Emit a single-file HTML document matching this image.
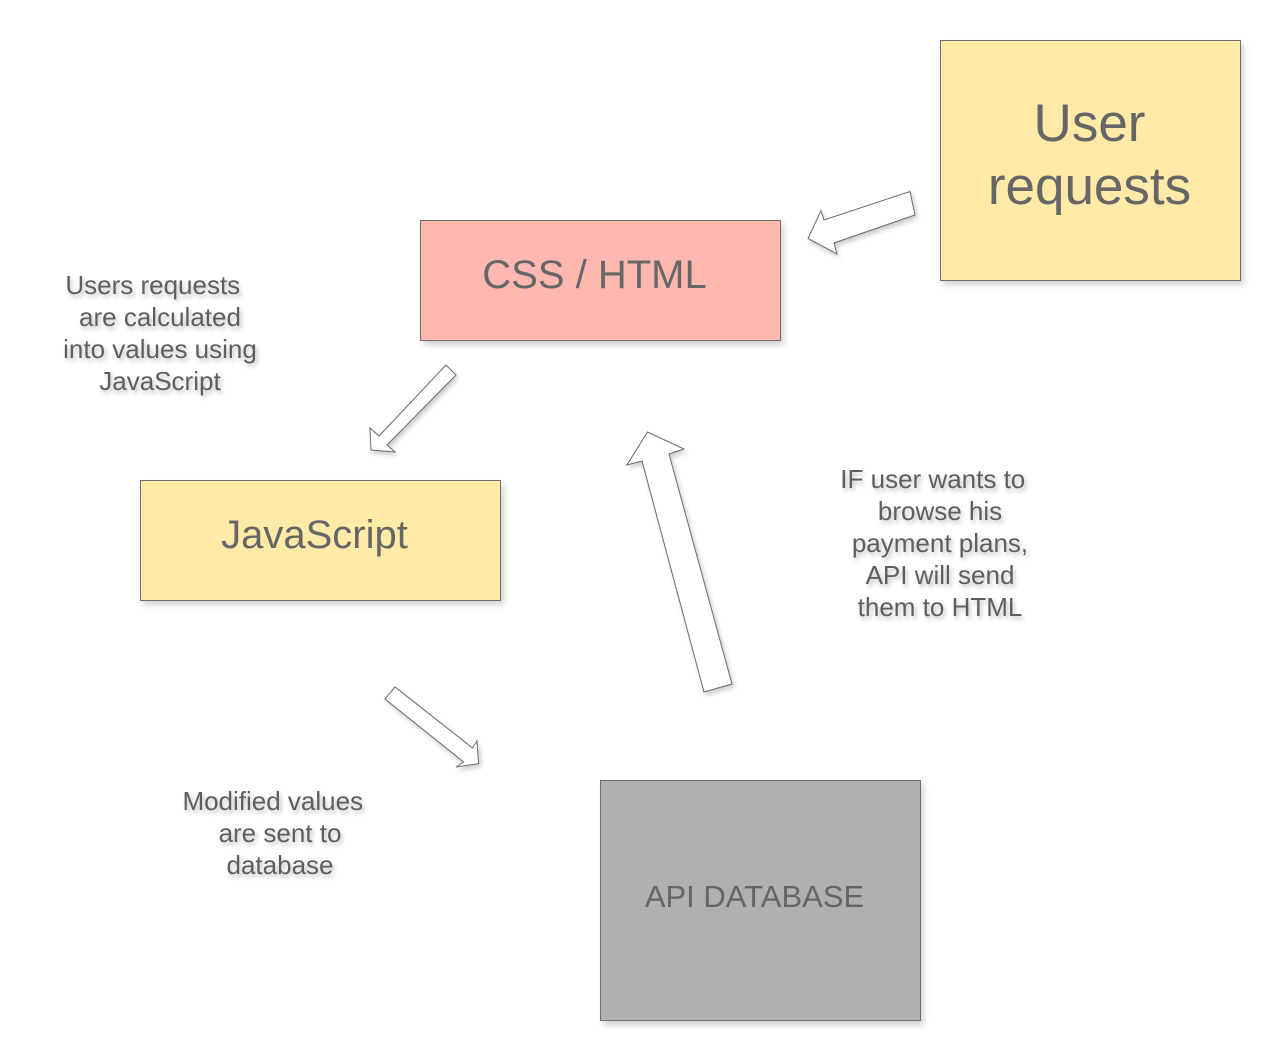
<!DOCTYPE html>
<html><head><meta charset="utf-8"><style>
html,body{margin:0;padding:0;background:#fff;}
body{width:1280px;height:1060px;position:relative;overflow:hidden;font-family:"Liberation Sans",Arial,sans-serif;color:#666;}
.box{position:absolute;box-sizing:border-box;border:1px solid #6e6e6e;box-shadow:3px 4px 6px rgba(0,0,0,0.18);display:flex;align-items:center;justify-content:center;text-align:center;}
.lbl{position:absolute;text-align:center;font-size:26px;line-height:32px;color:#5e5e5e;text-shadow:2px 3px 4px rgba(0,0,0,0.25);white-space:pre;}
svg{position:absolute;left:0;top:0;}
</style></head><body>
<div class="box" style="left:940px;top:40px;width:301px;height:241px;background:#ffeaa8;font-size:53px;line-height:63px;padding-bottom:12px;padding-right:2px;">User<br>requests</div>
<div class="box" style="left:420px;top:220px;width:361px;height:121px;background:#ffb8b0;font-size:40px;padding-bottom:10px;padding-right:12px;">CSS / HTML</div>
<div class="box" style="left:140px;top:480px;width:361px;height:121px;background:#ffeaa8;font-size:40px;padding-bottom:11px;padding-right:12px;">JavaScript</div>
<div class="box" style="left:600px;top:780px;width:321px;height:241px;background:#b0b0b0;font-size:31px;padding-bottom:8px;padding-right:12px;">API DATABASE</div>

<div class="lbl" style="left:40px;top:269px;width:240px;">Users requests&nbsp;&nbsp;<br>are calculated<br>into values using<br>JavaScript</div>
<div class="lbl" style="left:820px;top:463px;width:240px;">IF user wants to&nbsp;&nbsp;<br>browse his<br>payment plans,<br>API will send<br>them to HTML</div>
<div class="lbl" style="left:160px;top:785px;width:240px;">Modified values&nbsp;&nbsp;<br>are sent to<br>database</div>

<svg width="1280" height="1060" viewBox="0 0 1280 1060">
<defs><filter id="sh" x="-20%" y="-20%" width="140%" height="140%"><feDropShadow dx="2" dy="3" stdDeviation="2.5" flood-color="#000" flood-opacity="0.2"/></filter></defs>
<g fill="#fff" stroke="#6a6a6a" stroke-width="1" filter="url(#sh)">
<polygon points="910,191.5 915,215 834,243 837,254 808,238.5 821,210.6 824,220"/>
<polygon points="446,365 456,375 387,445 395,452 371,450 370,428 379,436"/>
<polygon points="732,684 704,692 642,461 627,465 647.5,432 684,449 669,454"/>
<polygon points="395,687 385,699 463.6,762 456,767 478.6,763.6 477,741 472.5,748"/>
</g>
</svg>
</body></html>
